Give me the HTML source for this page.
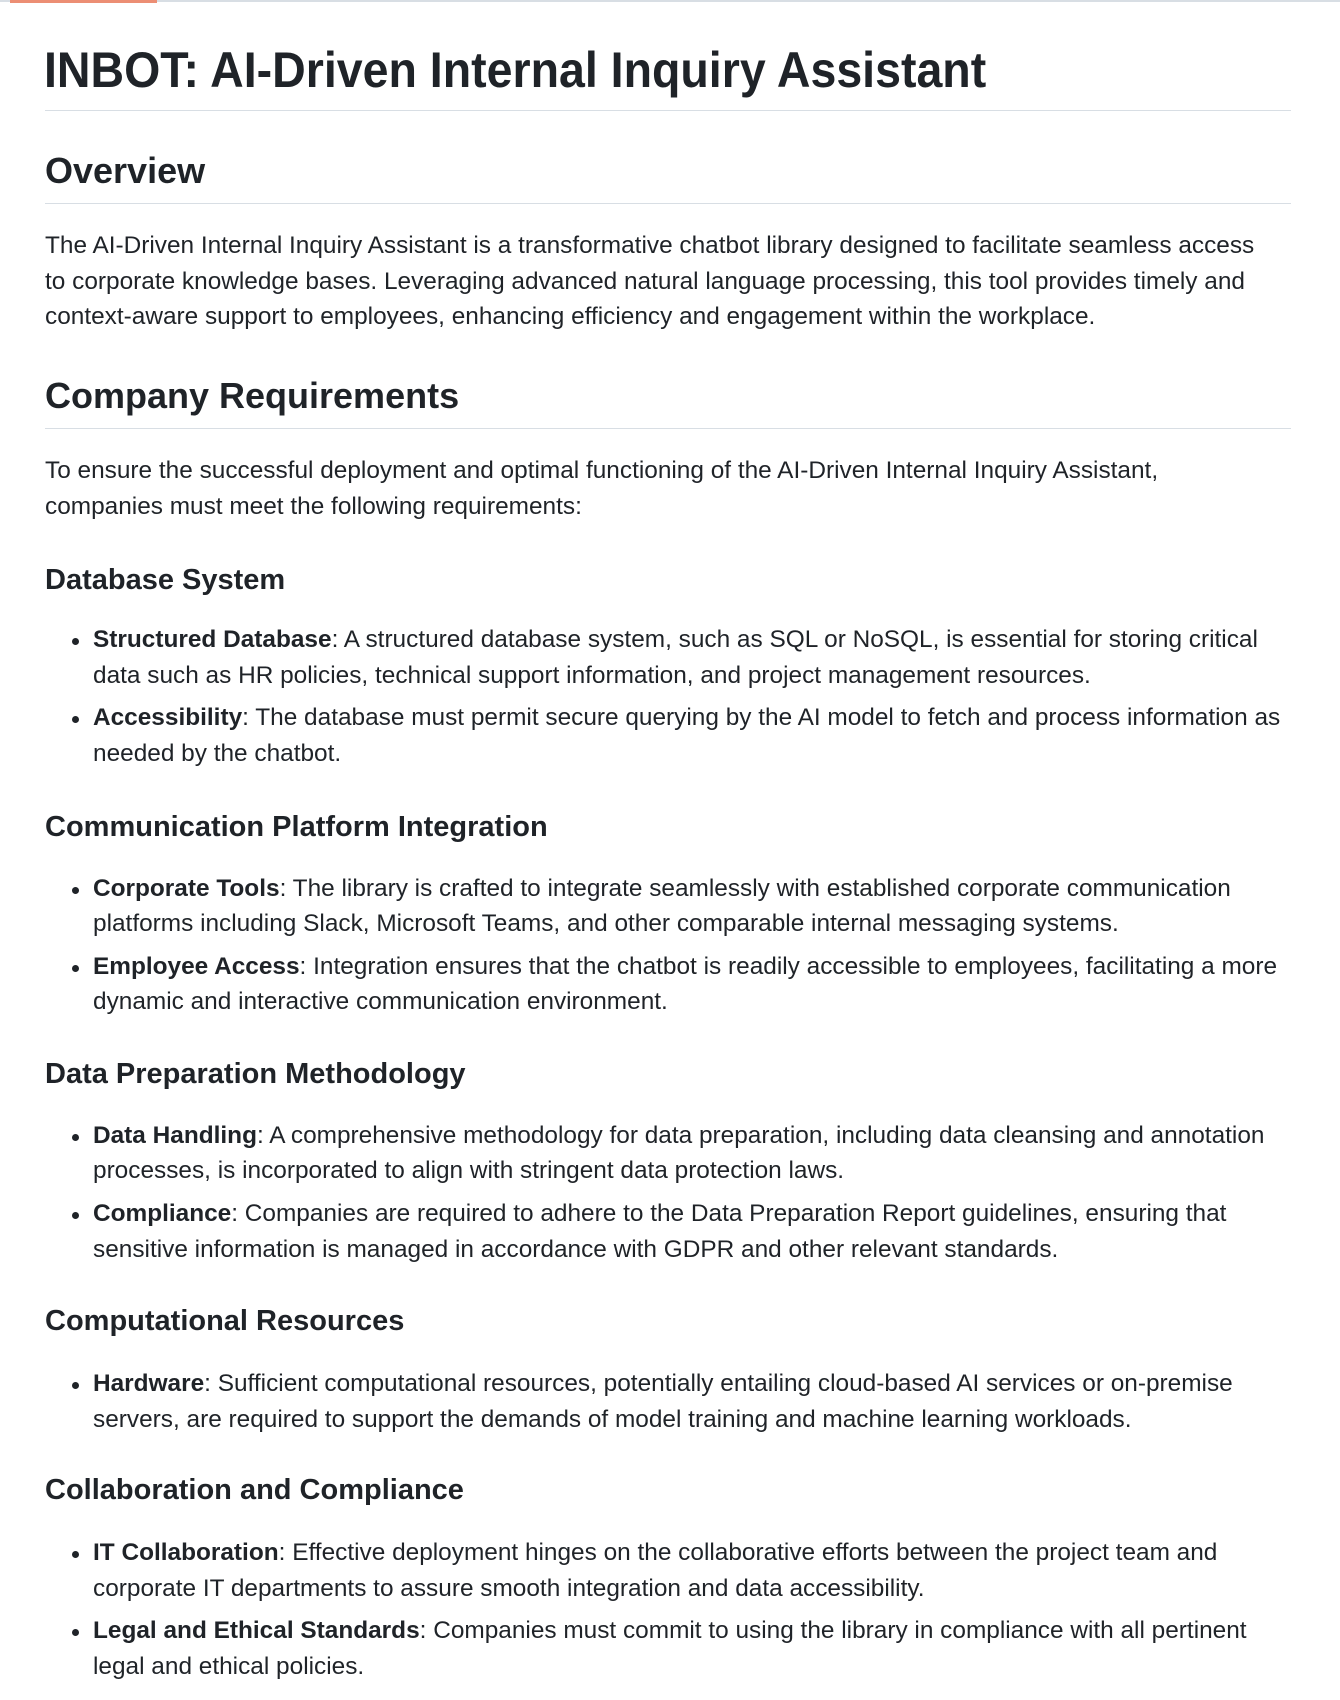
<!DOCTYPE html>
<html><head><meta charset="utf-8">
<style>
html,body{margin:0;padding:0;background:#fff;}
body{width:1340px;height:1700px;position:relative;overflow:hidden;font-family:"Liberation Sans",Arial,sans-serif;color:#1f2328;}
.l{position:absolute;white-space:nowrap;line-height:1;}
.b{font-size:24.4px;}
.h1{font-size:50px;font-weight:bold;transform:scaleX(0.93);transform-origin:0 0;}
.h2{font-size:36px;font-weight:bold;}
.h3{font-size:29px;font-weight:bold;}
.hr{position:absolute;left:45px;width:1246px;height:1px;background:#d8dee4;}
.dot{position:absolute;width:7px;height:7px;border-radius:50%;background:#1f2328;left:72px;}
b{font-weight:bold;}
</style></head><body>
<div style="position:absolute;left:0;top:0;width:1340px;height:2px;background:#d8dee4"></div>
<div style="position:absolute;left:10px;top:0;width:147px;height:3px;background:#ec8e74"></div>

<div class="l h1" style="left:44px;top:45px">INBOT: AI-Driven Internal Inquiry Assistant</div>
<div class="hr" style="top:110px"></div>

<div class="l h2" style="left:45px;top:153px">Overview</div>
<div class="hr" style="top:203px"></div>

<div class="l b" style="left:45px;top:234px">The AI-Driven Internal Inquiry Assistant is a transformative chatbot library designed to facilitate seamless access</div>
<div class="l b" style="left:45px;top:270px">to corporate knowledge bases. Leveraging advanced natural language processing, this tool provides timely and</div>
<div class="l b" style="left:45px;top:305px">context-aware support to employees, enhancing efficiency and engagement within the workplace.</div>

<div class="l h2" style="left:45px;top:378px">Company Requirements</div>
<div class="hr" style="top:428px"></div>

<div class="l b" style="left:45px;top:459px">To ensure the successful deployment and optimal functioning of the AI-Driven Internal Inquiry Assistant,</div>
<div class="l b" style="left:45px;top:495px">companies must meet the following requirements:</div>

<div class="l h3" style="left:45px;top:566px">Database System</div>
<div class="dot" style="top:638px"></div>
<div class="l b" style="left:93px;top:628px"><b>Structured Database</b>: A structured database system, such as SQL or NoSQL, is essential for storing critical</div>
<div class="l b" style="left:93px;top:664px">data such as HR policies, technical support information, and project management resources.</div>
<div class="dot" style="top:716px"></div>
<div class="l b" style="left:93px;top:706px"><b>Accessibility</b>: The database must permit secure querying by the AI model to fetch and process information as</div>
<div class="l b" style="left:93px;top:742px">needed by the chatbot.</div>

<div class="l h3" style="left:45px;top:813px">Communication Platform Integration</div>
<div class="dot" style="top:887px"></div>
<div class="l b" style="left:93px;top:877px"><b>Corporate Tools</b>: The library is crafted to integrate seamlessly with established corporate communication</div>
<div class="l b" style="left:93px;top:912px">platforms including Slack, Microsoft Teams, and other comparable internal messaging systems.</div>
<div class="dot" style="top:965px"></div>
<div class="l b" style="left:93px;top:955px"><b>Employee Access</b>: Integration ensures that the chatbot is readily accessible to employees, facilitating a more</div>
<div class="l b" style="left:93px;top:990px">dynamic and interactive communication environment.</div>

<div class="l h3" style="left:45px;top:1060px">Data Preparation Methodology</div>
<div class="dot" style="top:1134px"></div>
<div class="l b" style="left:93px;top:1124px"><b>Data Handling</b>: A comprehensive methodology for data preparation, including data cleansing and annotation</div>
<div class="l b" style="left:93px;top:1159px">processes, is incorporated to align with stringent data protection laws.</div>
<div class="dot" style="top:1212px"></div>
<div class="l b" style="left:93px;top:1202px"><b>Compliance</b>: Companies are required to adhere to the Data Preparation Report guidelines, ensuring that</div>
<div class="l b" style="left:93px;top:1238px">sensitive information is managed in accordance with GDPR and other relevant standards.</div>

<div class="l h3" style="left:45px;top:1307px">Computational Resources</div>
<div class="dot" style="top:1382px"></div>
<div class="l b" style="left:93px;top:1372px"><b>Hardware</b>: Sufficient computational resources, potentially entailing cloud-based AI services or on-premise</div>
<div class="l b" style="left:93px;top:1408px">servers, are required to support the demands of model training and machine learning workloads.</div>

<div class="l h3" style="left:45px;top:1476px">Collaboration and Compliance</div>
<div class="dot" style="top:1551px"></div>
<div class="l b" style="left:93px;top:1541px"><b>IT Collaboration</b>: Effective deployment hinges on the collaborative efforts between the project team and</div>
<div class="l b" style="left:93px;top:1577px">corporate IT departments to assure smooth integration and data accessibility.</div>
<div class="dot" style="top:1629px"></div>
<div class="l b" style="left:93px;top:1619px"><b>Legal and Ethical Standards</b>: Companies must commit to using the library in compliance with all pertinent</div>
<div class="l b" style="left:93px;top:1655px">legal and ethical policies.</div>
</body></html>
